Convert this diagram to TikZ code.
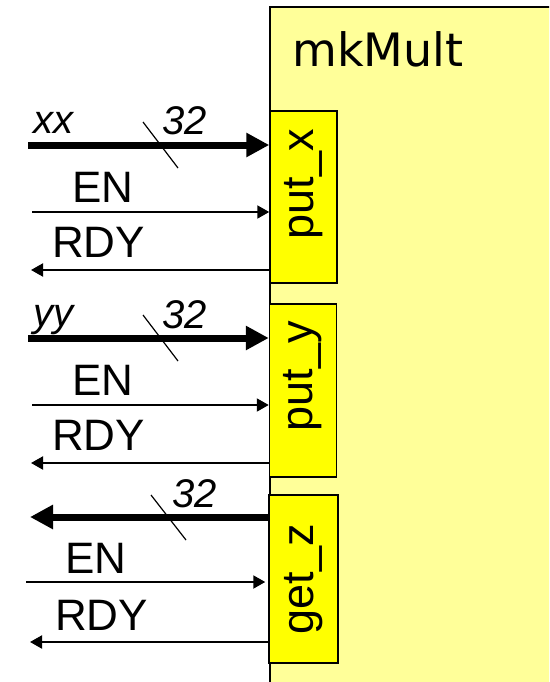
\documentclass[tikz,border=0pt]{standalone}
\usepackage{fontspec}
\setmainfont{Liberation Sans}
\newfontfamily\verdanafont{DejaVu Sans}
\usetikzlibrary{arrows.meta, positioning, calc}
\definecolor{modfill}{HTML}{FFFF99}
\definecolor{portfill}{HTML}{FFFF00}
\tikzset{
  modbox/.style={draw=black, line width=2pt, fill=modfill, inner sep=0pt},
  portbox/.style={draw=black, line width=1.5pt, fill=portfill, inner sep=0pt,
    minimum width=67pt},
  portlabel/.style={rotate=90, inner sep=0pt, font=\fontsize{45}{45}\selectfont},
  sig/.style={anchor=base west, inner sep=0pt, font=\fontsize{44}{44}\selectfont},
  buswidth/.style={anchor=base west, inner sep=0pt,
    font=\fontsize{40}{40}\selectfont\itshape},
  bus/.style={line width=7pt, -{Triangle[length=23pt,width=23pt]}},
  wire/.style={line width=2pt, -{Triangle[length=12pt,width=13pt]}},
  slash/.style={line width=1.2pt}
}
\begin{document}
\begin{tikzpicture}[x=1pt, y=-1pt]
  \useasboundingbox (0,0) rectangle (549,682);
  \clip (0,0) rectangle (549,682);
  % module
  \node[modbox, anchor=north west, minimum width=320pt, minimum height=720pt]
    (mult) at (269,6) {};
  \node[anchor=base west, inner sep=0pt, font=\verdanafont\fontsize{46}{46}\selectfont]
    (multname) at (292,67) {mkMult};
  % interface methods
  \node[portbox, minimum height=172pt] (putx) at (303.5,197) {};
  \node[portbox, minimum height=173pt] (puty) at (303,390.5) {};
  \node[portbox, minimum height=168pt, minimum width=69pt] (getz) at (303.5,579) {};
  \node[portlabel] (putxlabel) at ([yshift=13pt]putx.center) {put\_x};
  \node[portlabel] (putylabel) at ([yshift=14pt]puty.center) {put\_y};
  \node[portlabel] (getzlabel) at (getz.center) {get\_z};
  % put_x and put_y signals
  \foreach \p/\d/\dy in {x/xx/0, y/yy/193} {
    \coordinate (bus\p) at (28,{145+\dy});
    \coordinate (en\p) at (32,{212+\dy});
    \coordinate (rdy\p) at (31,{270+\dy});
    \draw[bus] (bus\p) -- (bus\p -| put\p.west);
    \draw[wire] (en\p) -- (en\p -| put\p.west);
    \draw[wire] (rdy\p -| put\p.west) -- (rdy\p);
    \draw[slash] (143,{122+\dy}) -- (178,{168+\dy});
    \node[buswidth] (arg\p) at (33,{133+\dy}) {\d};
    \node[buswidth] (width\p) at (162,{135+\dy}) {32};
    \node[sig] (en\p label) at (72,{202+\dy}) {EN};
    \node[sig] (rdy\p label) at (52,{257+\dy}) {RDY};
  }
  % get_z signals
  \coordinate (busz) at (30,517);
  \coordinate (enz) at (26,582);
  \coordinate (rdyz) at (30,642);
  \draw[bus] (busz -| getz.west) -- (busz);
  \draw[wire] (enz) -- ([xshift=-3pt]enz -| getz.west);
  \draw[wire] (rdyz -| getz.west) -- (rdyz);
  \draw[slash] (151,495) -- (186,540);
  \node[buswidth] (widthz) at (172,507) {32};
  \node[sig] (enz label) at (65,573) {EN};
  \node[sig] (rdyz label) at (55,630) {RDY};
\end{tikzpicture}
\end{document}
